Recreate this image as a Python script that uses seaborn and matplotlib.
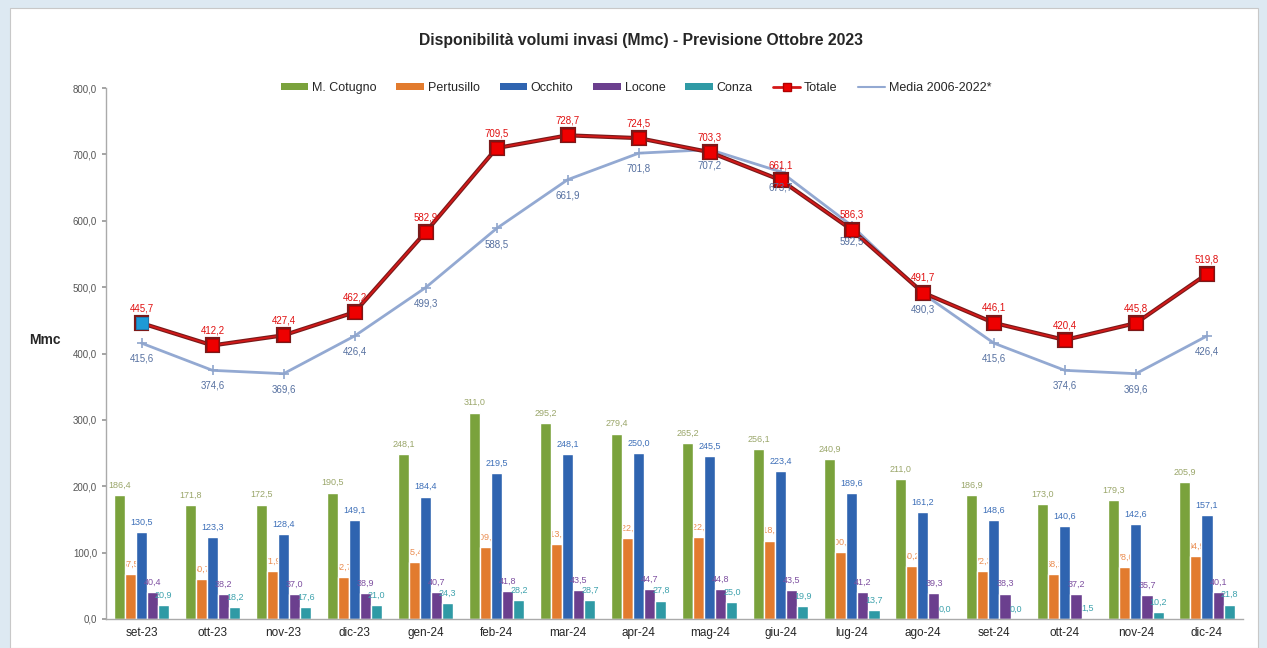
import numpy as np
import pandas as pd
import matplotlib
matplotlib.use("Agg")
import matplotlib.pyplot as plt
import matplotlib.patheffects as pe
from matplotlib.patches import Rectangle, Patch
from matplotlib.lines import Line2D
import seaborn as sns

months = ["set-23", "ott-23", "nov-23", "dic-23", "gen-24", "feb-24", "mar-24", "apr-24",
          "mag-24", "giu-24", "lug-24", "ago-24", "set-24", "ott-24", "nov-24", "dic-24"]
cotugno = [186.4, 171.8, 172.5, 190.5, 248.1, 311.0, 295.2, 279.4, 265.2, 256.1, 240.9, 211.0, 186.9, 173.0, 179.3, 205.9]
pertusillo = [67.5, 60.7, 71.9, 62.7, 85.4, 109.0, 113.2, 122.6, 122.8, 118.2, 100.9, 80.2, 72.3, 68.1, 78.0, 94.9]
occhito = [130.5, 123.3, 128.4, 149.1, 184.4, 219.5, 248.1, 250.0, 245.5, 223.4, 189.6, 161.2, 148.6, 140.6, 142.6, 157.1]
locone = [40.4, 38.2, 37.0, 38.9, 40.7, 41.8, 43.5, 44.7, 44.8, 43.5, 41.2, 39.3, 38.3, 37.2, 35.7, 40.1]
conza = [20.9, 18.2, 17.6, 21.0, 24.3, 28.2, 28.7, 27.8, 25.0, 19.9, 13.7, 0.0, 0.0, 1.5, 10.2, 21.8]
totale = [445.7, 412.2, 427.4, 462.2, 582.9, 709.5, 728.7, 724.5, 703.3, 661.1, 586.3, 491.7, 446.1, 420.4, 445.8, 519.8]
media = [415.6, 374.6, 369.6, 426.4, 499.3, 588.5, 661.9, 701.8, 707.2, 673.7, 592.5, 490.3, 415.6, 374.6, 369.6, 426.4]

series_names = ["M. Cotugno", "Pertusillo", "Occhito", "Locone", "Conza"]
series_vals = [cotugno, pertusillo, occhito, locone, conza]
bar_colors = ["#7aa23c", "#e27b2e", "#2f64b0", "#6b3f8e", "#2f9aa5"]
label_colors = ["#9aa66a", "#ea8c50", "#3d6fb8", "#7d4fa0", "#3ea2ad"]

sns.set_theme(style="white")
plt.rcParams["font.family"] = ["Liberation Sans", "DejaVu Sans"]

fig = plt.figure(figsize=(12.67, 6.48), dpi=100)
fig.patch.set_facecolor("#dde9f2")
fig.patches.append(Rectangle((10 / 1267, 0), 1248 / 1267, 640 / 648, transform=fig.transFigure,
                             facecolor="white", edgecolor="#c8c8c8", linewidth=0.8, zorder=-10))

ax = fig.add_axes([106 / 1267, 1 - 619 / 648, (1242.5 - 106) / 1267, (619 - 88) / 648])
ax.set_facecolor("none")
ax.set_zorder(1)

df = pd.DataFrame({
    "mese": np.repeat(months, len(series_names)),
    "serie": series_names * len(months),
    "valore": [series_vals[j][i] for i in range(len(months)) for j in range(len(series_names))],
})
sns.barplot(data=df, x="mese", y="valore", hue="serie", order=months, hue_order=series_names,
            palette=bar_colors, width=0.78, saturation=1, legend=False, ax=ax, zorder=2)

def fmt(v):
    return f"{v:.1f}".replace(".", ",")

# bar labels
for j, (name, vals) in enumerate(zip(series_names, series_vals)):
    cont = ax.containers[j]
    for rect, v in zip(cont, vals):
        cx = rect.get_x() + rect.get_width() / 2
        ax.text(cx, v + 8, fmt(v), ha="center", va="bottom", fontsize=6.5,
                color=label_colors[j], zorder=1 if j == 1 else 3)

x = np.arange(len(months))
sns.lineplot(x=x, y=media, ax=ax, color="#93a9d2", linewidth=2.0, marker="+", markersize=7,
             markeredgecolor="#8fa5cc", markeredgewidth=1.2, zorder=4)
sns.lineplot(x=x, y=totale, ax=ax, color="#d41818", linewidth=1.3, marker="s", markersize=8.5,
             markerfacecolor="#ee0000", markeredgecolor="#c00000", zorder=5,
             path_effects=[pe.Stroke(linewidth=3.0, foreground="#7a1a1a"), pe.Normal()])
sns.scatterplot(x=x[:1], y=totale[:1], marker="s", s=75, color="#1e9ad6", edgecolor="#1e7ab0",
                ax=ax, zorder=6)

for i in range(len(months)):
    ax.text(x[i], totale[i] + 15, fmt(totale[i]), ha="center", va="bottom", fontsize=7,
            color="#e01010", zorder=7)
    ax.text(x[i], media[i] - 16, fmt(media[i]), ha="center", va="top", fontsize=7,
            color="#5670a0", zorder=7)

ax.set_xlim(-0.5, len(months) - 0.5)
ax.set_ylim(0, 800)
ax.set_yticks(np.arange(0, 801, 100))
ax.set_yticklabels([fmt(v) for v in np.arange(0, 801, 100)], fontsize=7, color="#555555")
ax.tick_params(axis="y", length=3, color="#999999", left=True)
ax.tick_params(axis="x", length=0, labelsize=8.5, pad=6)
ax.set_xlabel("")
ax.set_ylabel("")
for s in ["top", "right"]:
    ax.spines[s].set_visible(False)
for s in ["left", "bottom"]:
    ax.spines[s].set_color("#aaaaaa")
    ax.spines[s].set_linewidth(1.0)

fig.text(45 / 1267, 1 - 340 / 648, "Mmc", fontsize=10, fontweight="bold", ha="center", va="center")
fig.text(641 / 1267, 1 - 40 / 648, "Disponibilità volumi invasi (Mmc) - Previsione Ottobre 2023",
         fontsize=11.3, fontweight="bold", ha="center", va="center")

handles = [Patch(facecolor=c, edgecolor="none") for c in bar_colors]
handles.append(Line2D([], [], color="#d41818", linewidth=2, marker="s", markersize=6,
                      markerfacecolor="#ee0000", markeredgecolor="#b00000"))
handles.append(Line2D([], [], color="#93a9d2", linewidth=1.5))
labels = series_names + ["Totale", "Media 2006-2022*"]
leg = fig.legend(handles, labels, loc="center", bbox_to_anchor=(636 / 1267, 1 - 88 / 648), ncol=7,
                 frameon=False, fontsize=9, handlelength=2.2, handleheight=0.45, columnspacing=1.6,
                 handletextpad=0.3)
leg.set_zorder(5)

fig.savefig("out.png", dpi=100, facecolor=fig.get_facecolor())
